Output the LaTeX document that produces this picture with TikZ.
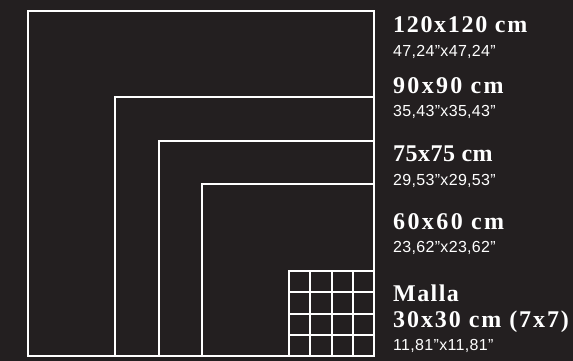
\documentclass[tikz,border=0pt]{standalone}
\usepackage{fontspec}
\usetikzlibrary{calc}
\newfontfamily\titlefont{Liberation Serif}[BoldFont={* Bold}]
\newfontfamily\subfont{Liberation Sans}
\definecolor{bgdark}{HTML}{231F20}
\tikzset{
  sq/.style={draw=white, line width=2pt, inner sep=0pt, outer sep=0pt, anchor=south east},
  gridline/.style={draw=white, line width=2pt},
  title/.style={text=white, anchor=base west, inner sep=0pt, font=\titlefont\bfseries\fontsize{24}{26}\selectfont},
  sub/.style={text=white, anchor=base west, inner sep=0pt, font=\subfont\fontsize{16}{18}\selectfont\addfontfeature{LetterSpace=2}}
}
\begin{document}
\begin{tikzpicture}[x=1pt,y=-1pt]
\fill[bgdark] (0,0) rectangle (573,361);
\useasboundingbox (0,0) rectangle (573,361);
\coordinate (corner) at (374,356);
\node[sq, minimum width=346pt, minimum height=345pt] (s120) at (corner) {};
\node[sq, minimum size=259pt] (s90) at (corner) {};
\node[sq, minimum size=215pt] (s75) at (corner) {};
\node[sq, minimum size=172pt] (s60) at (corner) {};
\node[sq, minimum size=85pt] (s30) at (corner) {};
\foreach \i in {0.25,0.5,0.75}{
  \draw[gridline] ($(s30.north west)!\i!(s30.north east)$) -- ($(s30.south west)!\i!(s30.south east)$);
  \draw[gridline] ($(s30.north west)!\i!(s30.south west)$) -- ($(s30.north east)!\i!(s30.south east)$);
}
\node[title] (t120) at (393,33) {\addfontfeature{LetterSpace=7}120x120 cm};
\node[sub] (i120) at (393,57) {47,24”x47,24”};
\node[title] (t90) at (393,93) {\addfontfeature{LetterSpace=9.5}90x90 cm};
\node[sub] (i90) at (393,116) {35,43”x35,43”};
\node[title] (t75) at (393,161.5) {\addfontfeature{LetterSpace=2}75x75 cm};
\node[sub] (i75) at (393,185) {29,53”x29,53”};
\node[title] (t60) at (393,229) {\addfontfeature{LetterSpace=10}60x60 cm};
\node[sub] (i60) at (393,252) {23,62”x23,62”};
\node[title] (tm) at (393,301.5) {\addfontfeature{LetterSpace=6}Malla};
\node[title] (t30) at (393,327) {\addfontfeature{LetterSpace=8}30x30 cm (7x7)};
\node[sub] (i30) at (393,350) {11,81”x11,81”};
\end{tikzpicture}
\end{document}
